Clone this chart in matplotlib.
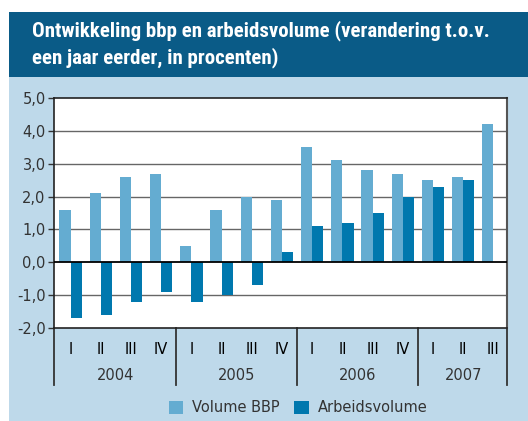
import numpy as np
import matplotlib.pyplot as plt
from matplotlib.patches import Rectangle
import matplotlib.transforms as mtransforms

# data
kwartalen = ['I', 'II', 'III', 'IV', 'I', 'II', 'III', 'IV', 'I', 'II', 'III', 'IV', 'I', 'II', 'III']
jaren = ['2004', '2005', '2006', '2007']
kwartalen_per_jaar = [4, 4, 4, 3]
volume_bbp = [1.6, 2.1, 2.6, 2.7, 0.5, 1.6, 2.0, 1.9, 3.5, 3.1, 2.8, 2.7, 2.5, 2.6, 4.2]
arbeidsvolume = [-1.7, -1.6, -1.2, -0.9, -1.2, -1.0, -0.7, 0.3, 1.1, 1.2, 1.5, 2.0, 2.3, 2.5, np.nan]
yticks = [-2, -1, 0, 1, 2, 3, 4, 5]

c_header = '#0A5B87'
c_panel = '#BED9EA'
c_bbp = '#64ACD1'
c_arb = '#0078AE'
c_text = '#333333'

W, H = 528, 421
fig = plt.figure(figsize=(W / 100, H / 100), dpi=100)
fig.patch.set_facecolor('white')

# background panels
fig.patches.append(Rectangle((9 / W, 0), 1, (H - 77) / H, transform=fig.transFigure,
                             facecolor=c_panel, edgecolor='none', zorder=-10))
fig.patches.append(Rectangle((9 / W, (H - 77) / H), 1, 65 / H, transform=fig.transFigure,
                             facecolor=c_header, edgecolor='none', zorder=-10))

title_font = dict(family=['Roboto Condensed', 'Liberation Sans Narrow', 'Roboto'],
                  fontweight='bold', fontsize=15, color='white')
fig.text(32 / W, 1 - 31 / H, 'Ontwikkeling bbp en arbeidsvolume (verandering t.o.v.',
         va='center', ha='left', **title_font)
fig.text(32 / W, 1 - 58 / H, 'een jaar eerder, in procenten)',
         va='center', ha='left', **title_font)

ax = fig.add_axes([54 / W, (H - 328) / H, (507 - 54) / W, (328 - 98) / H])
ax.set_facecolor('white')
ax.set_zorder(2)

x = np.arange(len(kwartalen))
bw = 0.37
ax.bar(x - bw / 2, volume_bbp, width=bw, color=c_bbp, zorder=3, label='Volume BBP')
ax.bar(x + bw / 2, arbeidsvolume, width=bw, color=c_arb, zorder=3, label='Arbeidsvolume')

ax.set_xlim(-0.55, 14.45)
ax.set_ylim(-2, 5)
ax.set_yticks(yticks)
ax.set_yticklabels([f'{v:.1f}'.replace('.', ',') for v in yticks],
                   fontsize=10.5, color=c_text, family='DejaVu Sans')
ax.tick_params(axis='y', length=4, width=1, color='#333333', pad=2)
ax.set_xticks([])
for v in yticks:
    if v in (-2, 5):
        continue
    ax.axhline(v, color='black' if v == 0 else '#666666', lw=1.3 if v == 0 else 1.0,
               zorder=4 if v == 0 else 1)

for side in ['top', 'left', 'bottom']:
    ax.spines[side].set_color('#222222')
    ax.spines[side].set_linewidth(1.2)
ax.spines['right'].set_color('#555555')
ax.spines['right'].set_linewidth(1.5)

# category axis below the plot
trans = mtransforms.blended_transform_factory(ax.transData, ax.transAxes)
ybot = -(385 - 328) / 230
sep = [-0.55]
start = 0
for n in kwartalen_per_jaar:
    start += n
    sep.append(start - 0.5)
sep[-1] = 14.45
for s in sep:
    ax.plot([s, s], [0, ybot], transform=trans, color='#333333', lw=1.3, clip_on=False)
for i, q in enumerate(kwartalen):
    ax.text(i, -(349 - 328) / 230, q, transform=trans, ha='center', va='center',
            fontsize=10.5, color='black', family='DejaVu Sans')
start = 0
for j, n in zip(jaren, kwartalen_per_jaar):
    ax.text(start + (n - 1) / 2, -(376 - 328) / 230, j, transform=trans, ha='center',
            va='center', fontsize=10.5, color=c_text, family='DejaVu Sans')
    start += n

leg = fig.legend(loc='center', bbox_to_anchor=(298 / W, 1 - 408 / H), ncol=2, frameon=False,
                 fontsize=10.5, handlelength=1.0, handleheight=1.0, handletextpad=0.6,
                 columnspacing=1.0)
for t in leg.get_texts():
    t.set_color(c_text)

fig.savefig('out.png', dpi=100)
